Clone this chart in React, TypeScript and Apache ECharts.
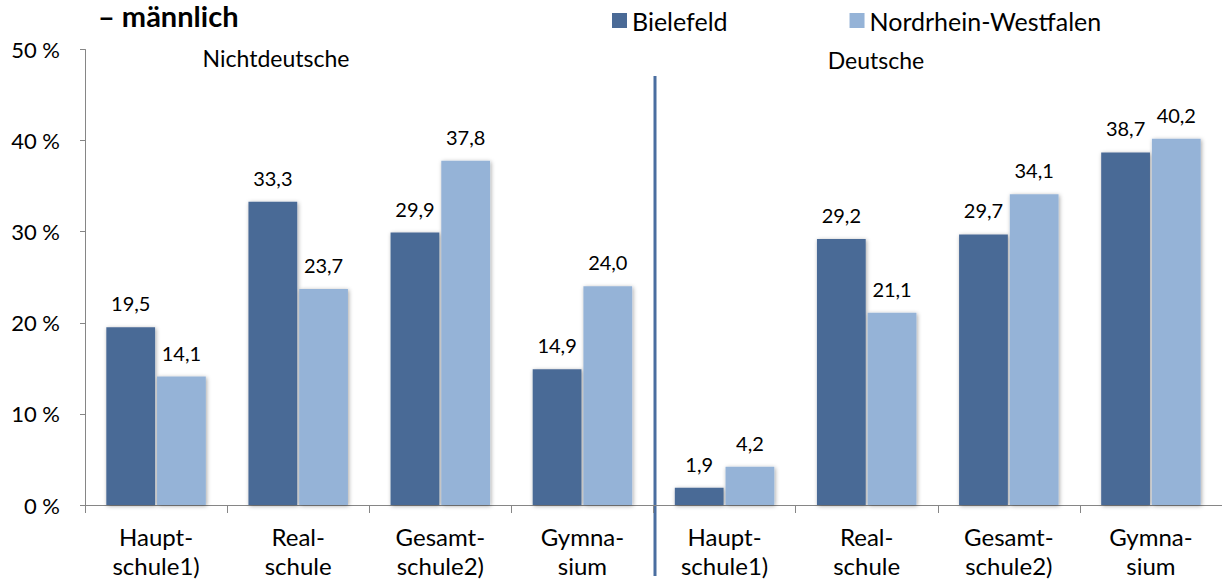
import React, { useEffect, useRef } from "react";
import * as echarts from "echarts";

const categories = [
  "Haupt-\nschule1)",
  "Real-\nschule",
  "Gesamt-\nschule2)",
  "Gymna-\nsium",
  "Haupt-\nschule1)",
  "Real-\nschule",
  "Gesamt-\nschule2)",
  "Gymna-\nsium",
];
const bielefeld = [19.5, 33.3, 29.9, 14.9, 1.9, 29.2, 29.7, 38.7];
const nrw = [14.1, 23.7, 37.8, 24.0, 4.2, 21.1, 34.1, 40.2];
const seriesNames = ["Bielefeld", "Nordrhein-Westfalen"];
const groupLabels = ["Nichtdeutsche", "Deutsche"];
const titleText = "– männlich";

const FONT = "Lato, 'Open Sans', sans-serif";
const DARK = "#4a6a96";
const LIGHT = "#95b3d7";

export default function App() {
  const ref = useRef<HTMLDivElement>(null);
  useEffect(() => {
    if (!ref.current) return;
    const chart = echarts.init(ref.current, null, { renderer: "svg" });
    const fmt = (p: any) => Number(p.value).toFixed(1).replace(".", ",");
    const barStyle = (color: string) => ({
      color,
      shadowColor: "rgba(0,0,0,0.35)",
      shadowBlur: 4,
      shadowOffsetX: 1,
      shadowOffsetY: 1,
    });
    const label = {
      show: true,
      position: "top",
      distance: 14,
      color: "#000",
      fontFamily: FONT,
      fontSize: 20,
      formatter: fmt,
    };
    chart.setOption({
      animation: false,
      textStyle: { fontFamily: FONT },
      grid: { left: 85, right: -5, top: 49.5, bottom: 74, containLabel: false },
      legend: {
        left: 607,
        top: 3,
        itemWidth: 15,
        itemHeight: 15,
        itemGap: 122,
        icon: "rect",
        textStyle: { fontFamily: FONT, fontSize: 25, color: "#000" },
        data: seriesNames,
      },
      xAxis: {
        type: "category",
        data: categories,
        axisLine: { lineStyle: { color: "#868686", width: 1 } },
        axisTick: { show: true, interval: 0, length: 8, lineStyle: { color: "#868686" } },
        axisLabel: {
          interval: 0,
          color: "#000",
          fontFamily: FONT,
          fontSize: 24,
          lineHeight: 29,
          margin: 17,
        },
      },
      yAxis: {
        type: "value",
        min: 0,
        max: 50,
        interval: 10,
        axisLine: { show: true, lineStyle: { color: "#868686", width: 1 } },
        axisTick: { show: true, length: 5, lineStyle: { color: "#868686" } },
        splitLine: { show: false },
        axisLabel: {
          formatter: "{value} %",
          color: "#000",
          fontFamily: FONT,
          fontSize: 22,
          margin: 25,
        },
      },
      series: [
        {
          name: seriesNames[0],
          type: "bar",
          data: bielefeld,
          barGap: "4%",
          barCategoryGap: "30%",
          itemStyle: barStyle(DARK),
          label,
        },
        {
          name: seriesNames[1],
          type: "bar",
          data: nrw,
          barGap: "4%",
          barCategoryGap: "30%",
          itemStyle: barStyle(LIGHT),
          label,
        },
      ],
      graphic: [
        {
          type: "text",
          left: 98,
          top: 1,
          style: {
            text: titleText,
            fontFamily: FONT,
            fontWeight: "bold",
            fontSize: 29,
            fill: "#000",
          },
        },
        {
          type: "text",
          x: 276,
          y: 58,
          style: {
            text: groupLabels[0],
            fontFamily: FONT,
            fontSize: 23,
            fill: "#000",
            align: "center",
            verticalAlign: "middle",
          },
        },
        {
          type: "text",
          x: 876,
          y: 60,
          style: {
            text: groupLabels[1],
            fontFamily: FONT,
            fontSize: 23,
            fill: "#000",
            align: "center",
            verticalAlign: "middle",
          },
        },
        {
          type: "line",
          shape: { x1: 655, y1: 76, x2: 655, y2: 576 },
          style: { stroke: "#4a6ea0", lineWidth: 3 },
        },
      ],
    });
    return () => chart.dispose();
  }, []);
  return (
    <div
      ref={ref}
      style={{ position: "fixed", left: 0, top: 0, width: 1222, height: 580, background: "#fff" }}
    />
  );
}
